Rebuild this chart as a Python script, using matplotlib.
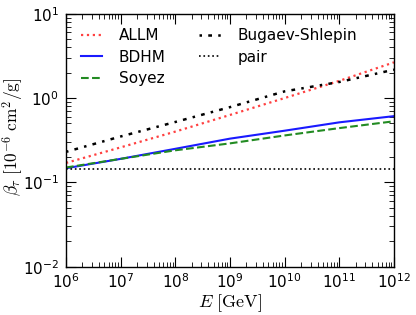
import matplotlib
matplotlib.use("Agg")
import matplotlib.pyplot as plt
import numpy as np

plt.rcParams['mathtext.fontset'] = 'cm'
plt.rcParams['font.family'] = ['DejaVu Sans']

E = [1e6, 1e7, 1e8, 1e9, 1e10, 1e11, 1e12]
allm = [0.17, 0.26, 0.40, 0.63, 1.0, 1.6, 2.65]
bdhm = [0.147, 0.19, 0.25, 0.33, 0.41, 0.515, 0.61]
soyez = [0.15, 0.19, 0.24, 0.29, 0.36, 0.44, 0.53]
bugaev = [0.23, 0.35, 0.52, 0.78, 1.2, 1.55, 2.17]
pair = [0.143, 0.143, 0.143, 0.143, 0.143, 0.143, 0.143]

fig = plt.figure(figsize=(4.16, 3.15), dpi=100)
ax = fig.add_axes([66/416, 1-266.7/315, 328/416, 253/315])

ax.plot(E, allm, color='#ff4040', ls=':', lw=1.6, label='ALLM')
ax.plot(E, bdhm, color='#1a1aff', ls='-', lw=1.5, label='BDHM')
ax.plot(E, soyez, color='#228b22', ls='--', lw=1.5, label='Soyez')
ax.plot(E, bugaev, color='black', lw=1.8, dashes=(1, 2.5, 1.5, 2.5), label='Bugaev-Shlepin')
ax.plot(E, pair, color='black', ls=':', lw=1.2, label='pair')

ax.set_xscale('log')
ax.set_yscale('log')
ax.set_xlim(1e6, 1e12)
ax.set_ylim(1e-2, 1e1)
ax.set_xticks([1e6, 1e7, 1e8, 1e9, 1e10, 1e11, 1e12])
ax.set_xticklabels([r'$\mathdefault{10^{%d}}$' % k for k in range(6, 13)])
ax.set_yticks([1e-2, 1e-1, 1e0, 1e1])
ax.set_yticklabels([r'$\mathdefault{10^{-2}}$', r'$\mathdefault{10^{-1}}$',
                    r'$\mathdefault{10^{0}}$', r'$\mathdefault{10^{1}}$'])
ax.tick_params(which='both', direction='in', top=True, right=True, labelsize=11)
ax.tick_params(which='major', length=7, width=0.8)
ax.tick_params(axis='x', which='major', pad=4)
ax.tick_params(axis='y', which='major', pad=5)
ax.tick_params(which='minor', length=3.5, width=0.6)
for s in ax.spines.values():
    s.set_linewidth(1)
ax.set_xlabel(r'$E\ [\mathrm{GeV}]$', fontsize=13, labelpad=1)
ax.set_ylabel(r'$\beta_\tau\ [10^{-6}\ \mathrm{cm}^2/\mathrm{g}]$', fontsize=12.5)
ax.yaxis.set_label_coords(-0.122, 0.515)
ax.legend(loc='upper left', ncol=2, frameon=False, fontsize=11, handlelength=1.4,
          handletextpad=1.1, columnspacing=2.2, labelspacing=0.42, borderaxespad=0.55)

fig.savefig('out.png', dpi=100)
